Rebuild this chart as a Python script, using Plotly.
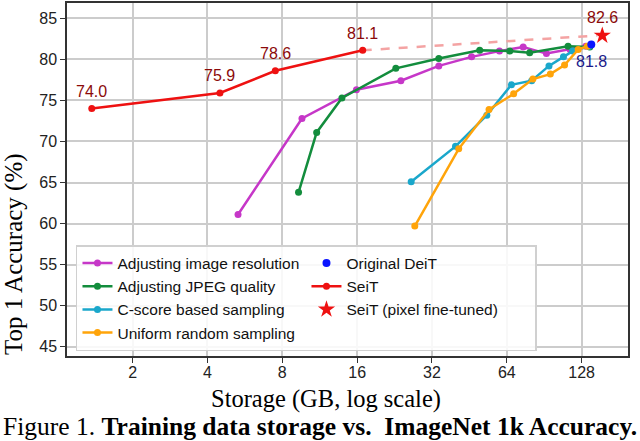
import plotly.graph_objects as go
import math

# ---- data (storage in GB, top-1 accuracy in %) ----
res_storage = [5.31, 9.6, 15.9, 24.0, 34.1, 46.2, 59.8, 74.5, 92.4, 115.0, 133.0]
res_acc = [61.1, 72.8, 76.3, 77.4, 79.2, 80.3, 81.0, 81.5, 80.7, 81.2, 81.6]

jpeg_storage = [9.3, 11.0, 13.9, 22.9, 34.1, 49.8, 65.8, 79.1, 112.9, 138.0]
jpeg_acc = [63.8, 71.1, 75.3, 78.9, 80.1, 81.1, 81.0, 80.8, 81.6, 81.5]

cscore_storage = [26.4, 39.8, 53.2, 66.8, 80.6, 94.6, 108.2, 117.8, 137.0]
cscore_acc = [65.1, 69.4, 73.2, 76.9, 77.4, 79.2, 80.3, 81.0, 81.6]

uniform_storage = [27.3, 41.0, 54.3, 68.2, 81.5, 95.8, 109.3, 124.0, 135.0]
uniform_acc = [59.7, 69.1, 73.9, 75.8, 77.6, 78.2, 79.3, 81.2, 81.6]

seit_storage = [1.37, 4.49, 7.5, 16.85]
seit_acc = [74.0, 75.9, 78.6, 81.1]
seit_labels = ["74.0", "75.9", "78.6", "81.1"]

deit_storage = [140.0]
deit_acc = [81.8]
deit_label = "81.8"

star_storage = [155.0]
star_acc = [82.9]
star_label = "82.6"

x_ticks = [2, 4, 8, 16, 32, 64, 128]
y_ticks = [45, 50, 55, 60, 65, 70, 75, 80, 85]

# ---- figure ----
fig = go.Figure()

# dashed link SeiT -> pixel fine-tuned
fig.add_trace(go.Scatter(
    x=[seit_storage[-1], star_storage[0] * 0.955], y=[seit_acc[-1], star_acc[0]],
    mode="lines", line=dict(color="#f4a3a3", width=2.5, dash="dash"),
    showlegend=False, hoverinfo="skip"))

def series(x, y, name, color, rank):
    fig.add_trace(go.Scatter(
        x=x, y=y, name=name, mode="lines+markers",
        line=dict(color=color, width=2.5),
        marker=dict(color=color, size=7),
        legendrank=rank))

series(res_storage, res_acc, "Adjusting image resolution", "#c637c8", 1)
series(jpeg_storage, jpeg_acc, "Adjusting JPEG quality", "#138d3d", 3)
series(cscore_storage, cscore_acc, "C-score based sampling", "#1aa7cb", 5)
series(uniform_storage, uniform_acc, "Uniform random sampling", "#ffa40a", 7)
series(seit_storage, seit_acc, "SeiT", "#ee1111", 4)

fig.add_trace(go.Scatter(
    x=deit_storage, y=deit_acc, name="Original DeiT", mode="markers",
    marker=dict(color="#0a14ff", size=8), legendrank=2))
fig.add_trace(go.Scatter(
    x=star_storage, y=star_acc, name="SeiT (pixel fine-tuned)", mode="markers",
    marker=dict(color="#ee1111", size=13, symbol="star"), legendrank=6))

# value labels
for xs, ys, t in zip(seit_storage, seit_acc, seit_labels):
    fig.add_annotation(x=math.log10(xs), y=ys, text=t, showarrow=False,
                       yshift=17, font=dict(family="Arial", size=16, color="#8b0a0a"))
fig.add_annotation(x=math.log10(star_storage[0]), y=star_acc[0], text=star_label,
                   showarrow=False, yshift=18,
                   font=dict(family="Arial", size=16, color="#8b0a0a"))
fig.add_annotation(x=math.log10(deit_storage[0]), y=deit_acc[0], text=deit_label,
                   showarrow=False, yshift=-17,
                   font=dict(family="Arial", size=16, color="#1a1a8a"))

serif = "Liberation Serif"
# axis titles (placed as in the reference, off-centre)
fig.add_annotation(xref="paper", yref="paper", x=(326 - 67) / 561.5, y=(356 - 399) / 353,
                   xanchor="center", yanchor="middle", showarrow=False,
                   text="Storage (GB, log scale)",
                   font=dict(family=serif, size=24.5, color="black"))
fig.add_annotation(xref="paper", yref="paper", x=(14 - 67) / 561.5, y=(356 - 254) / 353,
                   xanchor="center", yanchor="middle", showarrow=False, textangle=-90,
                   text="Top 1 Accuracy (%)",
                   font=dict(family=serif, size=25, color="black"))

# caption
fig.add_annotation(xref="paper", yref="paper", x=(1 - 67) / 561.5, y=(356 - 427) / 353,
                   xanchor="left", yanchor="middle", showarrow=False,
                   text="Figure 1. <b>Training data storage vs.  ImageNet 1k Accuracy.</b>",
                   font=dict(family=serif, size=25.5, color="black"))

axis_common = dict(showline=True, linecolor="#333333", linewidth=1.5, mirror=True,
                   showgrid=True, gridcolor="#cccccc", gridwidth=1.5,
                   ticks="outside", ticklen=5, tickcolor="#333333",
                   tickfont=dict(family="Arial", size=16, color="#222222"),
                   zeroline=False, automargin=False)

fig.update_xaxes(type="log", range=[math.log10(1.089), math.log10(196.7)],
                 tickvals=x_ticks, ticktext=[str(v) for v in x_ticks],
                 ticklabelstandoff=-4, **axis_common)
fig.update_yaxes(range=[43.87, 86.86], tickvals=y_ticks, **axis_common)

fig.update_layout(
    width=640, height=441,
    margin=dict(l=67, r=11.5, t=3, b=85),
    plot_bgcolor="white", paper_bgcolor="white",
    legend=dict(x=0.016, y=(356 - 245) / 353, xanchor="left", yanchor="top",
                orientation="h", entrywidth=184, entrywidthmode="pixels",
                bgcolor="rgba(255,255,255,0.85)", bordercolor="#d0d0d0", borderwidth=1.5,
                font=dict(family="Arial", size=15.5, color="#111111"),
                tracegroupgap=0),
)

fig.write_html("out.html", config={"displayModeBar": False},
               post_script="document.body.style.margin='0';")
